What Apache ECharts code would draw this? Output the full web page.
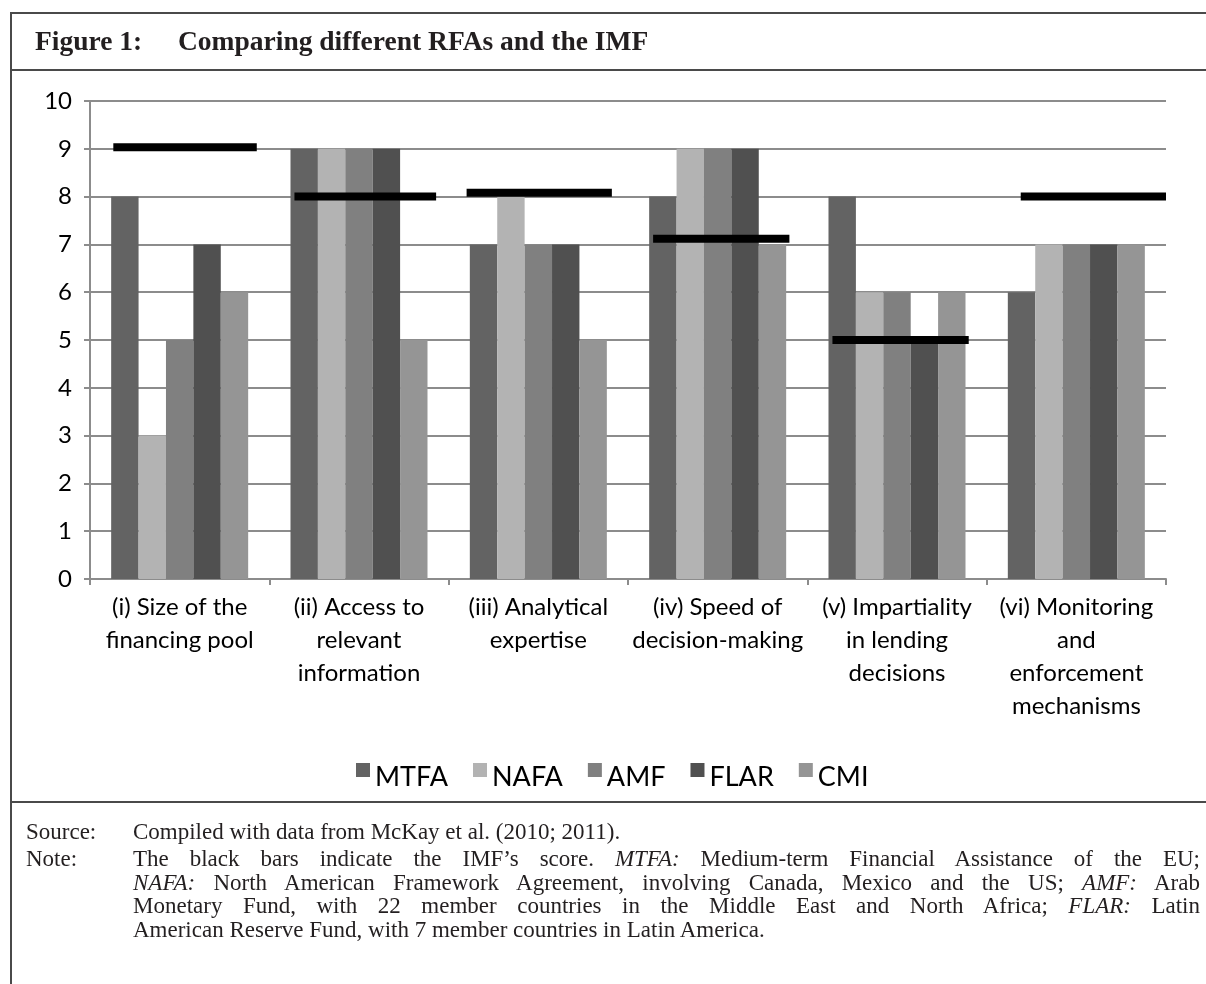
<!DOCTYPE html>
<html>
<head>
<meta charset="utf-8">
<script src="https://cdn.jsdelivr.net/npm/echarts@6/dist/echarts.min.js"></script>
<style>
  html, body { margin: 0; padding: 0; background: #fff; }
  body { width: 1206px; height: 984px; position: relative; overflow: hidden; }
  #chart { position: absolute; left: 0; top: 0; width: 1206px; height: 984px; }
  .hline { position: absolute; left: 10px; right: 0; height: 2px; background: #4a4a4a; }
  .vline { position: absolute; left: 10px; top: 12px; bottom: 0; width: 2px; background: #4a4a4a; }
  .title { position: absolute; top: 25px; font: bold 27.5px 'Liberation Serif', serif; color: #231f20; white-space: nowrap; }
  .note { position: absolute; font: 23px 'Liberation Serif', serif; color: #231f20; white-space: nowrap; line-height: 23.5px; }
  .just { text-align: justify; text-align-last: justify; width: 1067px; }
</style>
</head>
<body>
<div id="chart"></div>
<div class="vline"></div>
<div class="hline" style="top:12px"></div>
<div class="hline" style="top:69px"></div>
<div class="hline" style="top:801px"></div>
<div class="title" style="left:35px">Figure 1:</div>
<div class="title" style="left:178px">Comparing different RFAs and the IMF</div>
<div class="note" style="left:26px; top:820px">Source:</div>
<div class="note" style="left:133px; top:820px">Compiled with data from McKay et al. (2010; 2011).</div>
<div class="note" style="left:26px; top:847px">Note:</div>
<div class="note" style="left:133px; top:847px">
  <div class="just">The black bars indicate the IMF’s score. <i>MTFA:</i> Medium-term Financial Assistance of the EU;</div>
  <div class="just"><i>NAFA:</i> North American Framework Agreement, involving Canada, Mexico and the US; <i>AMF:</i> Arab</div>
  <div class="just">Monetary Fund, with 22 member countries in the Middle East and North Africa; <i>FLAR:</i> Latin</div>
  <div>American Reserve Fund, with 7 member countries in Latin America.</div>
</div>
<script>
// ---- data ----
var categories = [
  "(i) Size of the\nfinancing pool",
  "(ii) Access to\nrelevant\ninformation",
  "(iii) Analytical\nexpertise",
  "(iv) Speed of\ndecision-making",
  "(v) Impartiality\nin lending\ndecisions",
  "(vi) Monitoring\nand\nenforcement\nmechanisms"
];
var seriesNames = ["MTFA", "NAFA", "AMF", "FLAR", "CMI"];
var MTFA = [8, 9, 7, 8, 8, 6];
var NAFA = [3, 9, 8, 9, 6, 7];
var AMF  = [5, 9, 7, 9, 6, 7];
var FLAR = [7, 9, 7, 9, 5, 7];
var CMI  = [6, 5, 5, 7, 6, 7];
// IMF score marks: value, and horizontal extent in category units (category i spans i..i+1)
var IMF      = [9.03, 8.0, 8.08, 7.12, 5.0, 8.0];
var IMFstart = [0.13, 1.14, 2.10, 3.14, 4.14, 5.19];
var IMFend   = [0.93, 1.93, 2.91, 3.90, 4.90, 6.00];
var yTicks = [0, 1, 2, 3, 4, 5, 6, 7, 8, 9, 10];

var colors = ["#636363", "#b3b3b3", "#808080", "#505050", "#959595"];
var seriesData = [MTFA, NAFA, AMF, FLAR, CMI];
var FONT = "Lato";

var chart = echarts.init(document.getElementById('chart'), null, { renderer: 'canvas' });

var series = seriesNames.map(function (n, i) {
  return {
    name: n, type: 'bar', data: seriesData[i],
    barGap: '0%', barCategoryGap: '23.6%',
    itemStyle: { color: colors[i] },
    z: 2
  };
});

var imfData = IMF.map(function (v, i) { return [IMFstart[i], IMFend[i], v]; });
series.push({
  name: 'IMF', type: 'custom', xAxisIndex: 1, yAxisIndex: 0,
  data: imfData, z: 10,
  encode: { x: [0, 1], y: 2 },
  renderItem: function (params, api) {
    var p1 = api.coord([api.value(0), api.value(2)]);
    var p2 = api.coord([api.value(1), api.value(2)]);
    return {
      type: 'rect',
      shape: { x: p1[0], y: p1[1] - 4, width: p2[0] - p1[0], height: 8 },
      style: { fill: '#000' }
    };
  }
});

chart.setOption({
  animation: false,
  textStyle: { fontFamily: FONT },
  grid: { left: 90, top: 101, width: 1076, height: 478, containLabel: false },
  legend: {
    data: seriesNames,
    top: 758, left: 351,
    itemWidth: 14, itemHeight: 28, itemGap: 25,
    icon: 'path://M0,0H14V14H0Z M0,28L0.01,28',
    textStyle: { fontFamily: FONT, fontSize: 27, color: '#000' }
  },
  xAxis: [{
    type: 'category', data: categories,
    axisLine: { lineStyle: { color: '#8c8c8c', width: 2 } },
    axisTick: { show: true, length: 6, lineStyle: { color: '#8c8c8c', width: 2 } },
    axisLabel: { interval: 0, margin: 12, fontSize: 24, lineHeight: 33, color: '#000', fontFamily: FONT, align: 'center' }
  }, {
    type: 'value', min: 0, max: 6, show: false
  }],
  yAxis: {
    type: 'value', min: 0, max: 10, interval: 1,
    axisLine: { show: true, lineStyle: { color: '#8c8c8c', width: 2 } },
    axisTick: { show: true, length: 6, lineStyle: { color: '#8c8c8c', width: 2 } },
    axisLabel: { margin: 18, fontSize: 24, color: '#000', fontFamily: FONT,
      formatter: function (v) { return yTicks.indexOf(v) >= 0 ? String(v) : ''; } },
    splitLine: { show: true, lineStyle: { color: '#8c8c8c', width: 2 } }
  },
  series: series
});
</script>
</body>
</html>
